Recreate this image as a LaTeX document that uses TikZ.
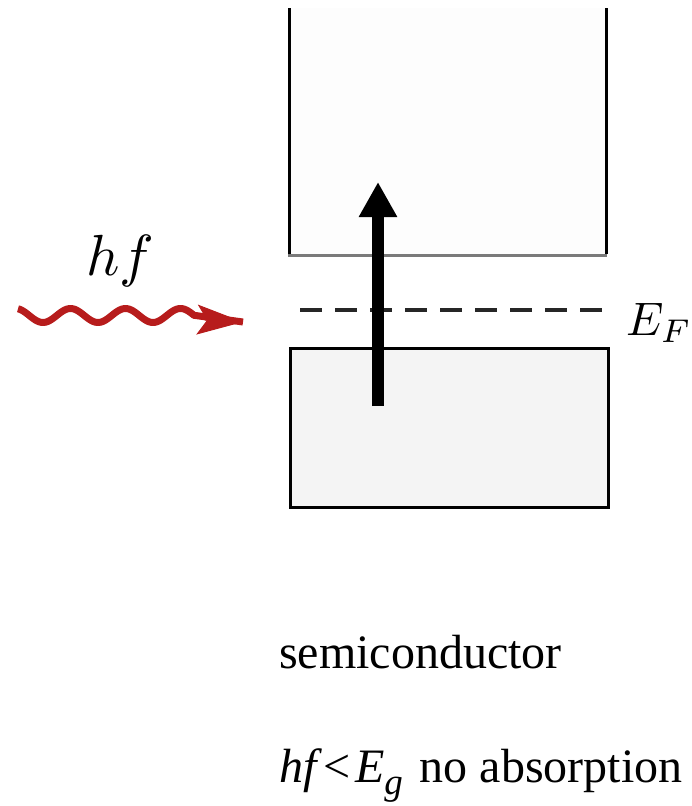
\documentclass[tikz,border=0pt]{standalone}
\usepackage{fontspec}
\newfontfamily\timesfont{Liberation Serif}
\usetikzlibrary{arrows.meta}
\definecolor{wavered}{HTML}{B71C1C}
\definecolor{upfill}{HTML}{FDFDFD}
\definecolor{lowfill}{HTML}{F4F4F4}
\definecolor{bandline}{HTML}{7A7A7A}
\tikzset{
  edgeline/.style={line width=3pt, black},
  fermi/.style={line width=3.5pt, black!85, dash pattern=on 22pt off 13pt},
  bigarrow/.style={line width=12pt, black, -{Triangle[width=36pt,length=35pt]}},
  photon/.style={line width=7pt, wavered, line join=round},
  mathlabel/.style={anchor=base west, inner sep=0pt},
  captext/.style={anchor=base west, inner sep=0pt, font=\timesfont\fontsize{48}{56}\selectfont},
}
\begin{document}
\begin{tikzpicture}[x=1pt,y=-1pt]
\useasboundingbox (0,0) rectangle (692,806);
% conduction band (open top)
\fill[upfill] (289,8) rectangle (606,255);
\draw[line width=3pt, bandline] (288,255) -- (607,255);
\draw[edgeline] (289,8) -- (289,254);
\draw[edgeline] (606,8) -- (606,254);
% valence band
\node[draw, line width=3pt, fill=lowfill, minimum width=318pt, minimum height=159pt,
      inner sep=0pt, anchor=south west] (vb) at (289,509) {};
% Fermi level
\coordinate (efl) at (300,310);
\coordinate (efr) at (603,310);
\draw[fermi] (efl) -- (efr);
\node[mathlabel] (ef) at (626,335) {\scalebox{4.7}{$E_F$}};
% transition arrow
\coordinate (abot) at (378,406);
\coordinate (atop) at (378,182);
\draw[bigarrow] (abot) -- (atop);
% photon
\coordinate (wtip) at (243,322);
\draw[photon] plot[domain=18:194, samples=90, smooth] (\x, {315.5 + 7*cos(6.545*(\x-43))}) -- (wtip);
\draw[wavered, line width=1pt, -{Stealth[length=46pt,width=30pt,inset=10pt]}] (205,320) -- (wtip);
\node[mathlabel] (hf) at (86,275) {\scalebox{5.8}{$hf$}};
% captions
\node[captext] (sc) at (279,668) {semiconductor};
\node[captext] (cond) at (279,782) {\textit{hf}\kern1pt<\kern5pt\textit{E}\raisebox{-12pt}{\fontsize{37}{38}\selectfont\textit{g}}\hspace{5pt} no absorption};
\end{tikzpicture}
\end{document}
